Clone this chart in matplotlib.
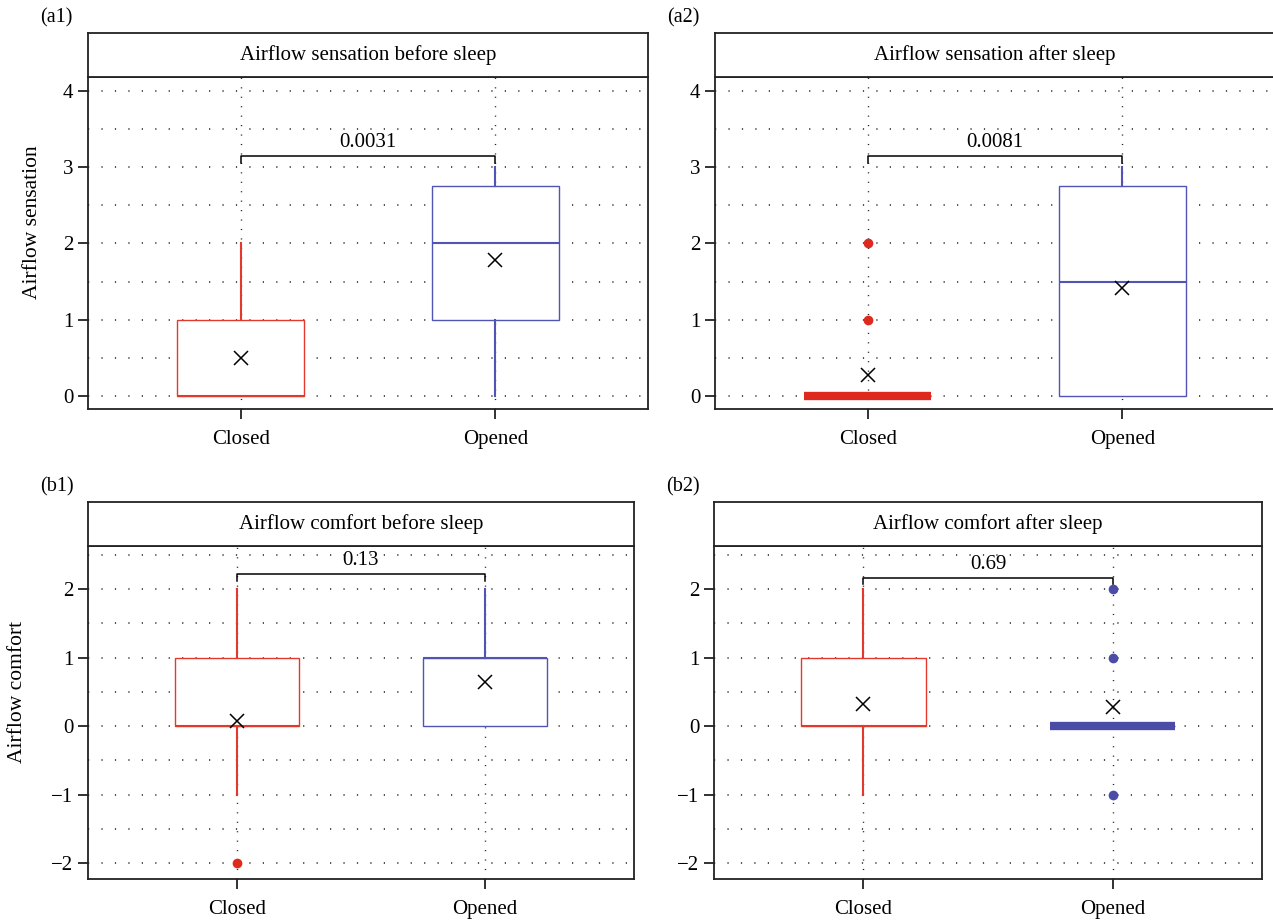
import matplotlib
matplotlib.use("Agg")
import matplotlib.pyplot as plt

plt.rcParams['font.family'] = ['Liberation Serif', 'DejaVu Serif']
plt.rcParams['font.size'] = 15

RED = "#e3382c"
RED_BAR = "#de2a1e"
BLUE = "#5054b4"
BLUE_BAR = "#4a4ca6"

groups = ["Closed", "Opened"]

# box stats per panel: [closed, opened]
a1_q1 = [0, 1];    a1_med = [0, 2];    a1_q3 = [1, 2.75]
a1_lo = [0, 0];    a1_hi = [2, 3];     a1_mean = [0.5, 1.78]
a1_fliers = [[], []]

a2_q1 = [0, 0];    a2_med = [0, 1.5];  a2_q3 = [0, 2.75]
a2_lo = [0, 0];    a2_hi = [0, 3];     a2_mean = [0.27, 1.42]
a2_fliers = [[1, 2], []]

b1_q1 = [0, 0];    b1_med = [0, 1];    b1_q3 = [1, 1]
b1_lo = [-1, 0];   b1_hi = [2, 2];     b1_mean = [0.08, 0.64]
b1_fliers = [[-2], []]

b2_q1 = [0, 0];    b2_med = [0, 0];    b2_q3 = [1, 0]
b2_lo = [-1, 0];   b2_hi = [2, 0];     b2_mean = [0.33, 0.28]
b2_fliers = [[], [2, 1, -1]]

p_values = ["0.0031", "0.0081", "0.13", "0.69"]
titles = ["Airflow sensation before sleep", "Airflow sensation after sleep",
          "Airflow comfort before sleep", "Airflow comfort after sleep"]
tags = ["(a1)", "(a2)", "(b1)", "(b2)"]

W, H = 1273, 921
fig = plt.figure(figsize=(W / 100, H / 100), dpi=100)


def px_axes(x0, y0, x1, y1):
    return fig.add_axes([x0 / W, 1 - y1 / H, (x1 - x0) / W, (y1 - y0) / H])


def panel(box, strip, title, tag, q1, med, q3, lo, hi, mean, fliers,
          ylim, yticks, yminor, bracket, pval):
    ax = px_axes(*box)
    st = px_axes(*strip)
    st.set_xticks([]); st.set_yticks([])
    st.text(0.5, 0.5, title, ha="center", va="center", fontsize=15)
    for s in st.spines.values():
        s.set_linewidth(1.3); s.set_color("#222222")
    fig.text((box[0] - 48) / W, 1 - (strip[1] - 15) / H, tag, fontsize=14.5,
             ha="left", va="center")

    stats = []
    for i in range(2):
        stats.append(dict(q1=q1[i], med=med[i], q3=q3[i], whislo=lo[i],
                          whishi=hi[i], mean=mean[i], fliers=fliers[i]))
    bp = ax.bxp(stats, positions=[1, 2], widths=0.5, patch_artist=True,
                showmeans=True, showcaps=False,
                meanprops=dict(marker="x", markersize=10, markeredgecolor="black",
                               markeredgewidth=1.1),
                flierprops=dict(marker="o", markersize=7, markeredgewidth=0),
                medianprops=dict(linewidth=1.5, solid_capstyle="butt"),
                boxprops=dict(linewidth=1.0),
                whiskerprops=dict(linewidth=1.5), manage_ticks=False, zorder=3)
    for i, (c, cb) in enumerate([(RED, RED_BAR), (BLUE, BLUE_BAR)]):
        bp["boxes"][i].set_facecolor("white")
        bp["boxes"][i].set_edgecolor(c)
        bp["medians"][i].set_color(c)
        bp["whiskers"][2 * i].set_color(c)
        bp["whiskers"][2 * i + 1].set_color(c)
        bp["fliers"][i].set_markerfacecolor(cb)
        if q1[i] == q3[i] and q1[i] == med[i]:
            bp["medians"][i].set_linewidth(6)
            bp["medians"][i].set_color(cb)
            bp["boxes"][i].set_edgecolor(cb)
    for m in bp["means"]:
        m.set_zorder(5)

    ax.set_xlim(0.4, 2.6)
    ax.set_ylim(*ylim)
    ax.set_xticks([1, 2], groups)
    ax.set_yticks(yticks)
    ax.set_yticks(yminor, minor=True)
    ax.tick_params(axis="y", which="minor", length=0)
    ax.tick_params(axis="both", which="major", length=7, width=1.3,
                   color="#222222", labelsize=15)
    ax.tick_params(axis="x", pad=8)
    ax.grid(True, which="both", axis="y", color="#222222", linewidth=1.1,
            linestyle=(0, (0.8, 8)))
    ax.grid(True, which="major", axis="x", color="#222222", linewidth=1.0,
            linestyle=(0, (0.8, 6)))
    ax.set_axisbelow(True)
    for s in ax.spines.values():
        s.set_linewidth(1.3); s.set_color("#222222")

    by, tip = bracket
    ax.plot([1, 1, 2, 2], [tip, by, by, tip], color="black", linewidth=1.1, zorder=4)
    ax.text(1.5, by + (ylim[1] - ylim[0]) * 0.012, pval, ha="center",
            va="bottom", fontsize=15)
    return ax


top_ylim = (-0.17, 4.18)
top_ticks = [0, 1, 2, 3, 4]
top_minor = [0.5, 1.5, 2.5, 3.5]
bot_ylim = (-2.23, 2.63)
bot_ticks = [-2, -1, 0, 1, 2]
bot_minor = [-1.5, -0.5, 0.5, 1.5, 2.5]

panel((88, 77, 648, 409), (88, 33, 648, 77), titles[0], tags[0],
      a1_q1, a1_med, a1_q3, a1_lo, a1_hi, a1_mean, a1_fliers,
      top_ylim, top_ticks, top_minor, (3.15, 3.05), p_values[0])
panel((715, 77, 1275, 409), (715, 33, 1275, 77), titles[1], tags[1],
      a2_q1, a2_med, a2_q3, a2_lo, a2_hi, a2_mean, a2_fliers,
      top_ylim, top_ticks, top_minor, (3.15, 3.05), p_values[1])
panel((88, 546, 634, 879), (88, 502, 634, 546), titles[2], tags[2],
      b1_q1, b1_med, b1_q3, b1_lo, b1_hi, b1_mean, b1_fliers,
      bot_ylim, bot_ticks, bot_minor, (2.22, 2.12), p_values[2])
panel((714, 546, 1262, 879), (714, 502, 1262, 546), titles[3], tags[3],
      b2_q1, b2_med, b2_q3, b2_lo, b2_hi, b2_mean, b2_fliers,
      bot_ylim, bot_ticks, bot_minor, (2.17, 2.07), p_values[3])

fig.text(33 / W, 1 - 222 / H, "Airflow sensation", rotation=90,
         ha="center", va="center", fontsize=15.5)
fig.text(18 / W, 1 - 692 / H, "Airflow comfort", rotation=90,
         ha="center", va="center", fontsize=15.5)

fig.savefig("out.png", dpi=100)
